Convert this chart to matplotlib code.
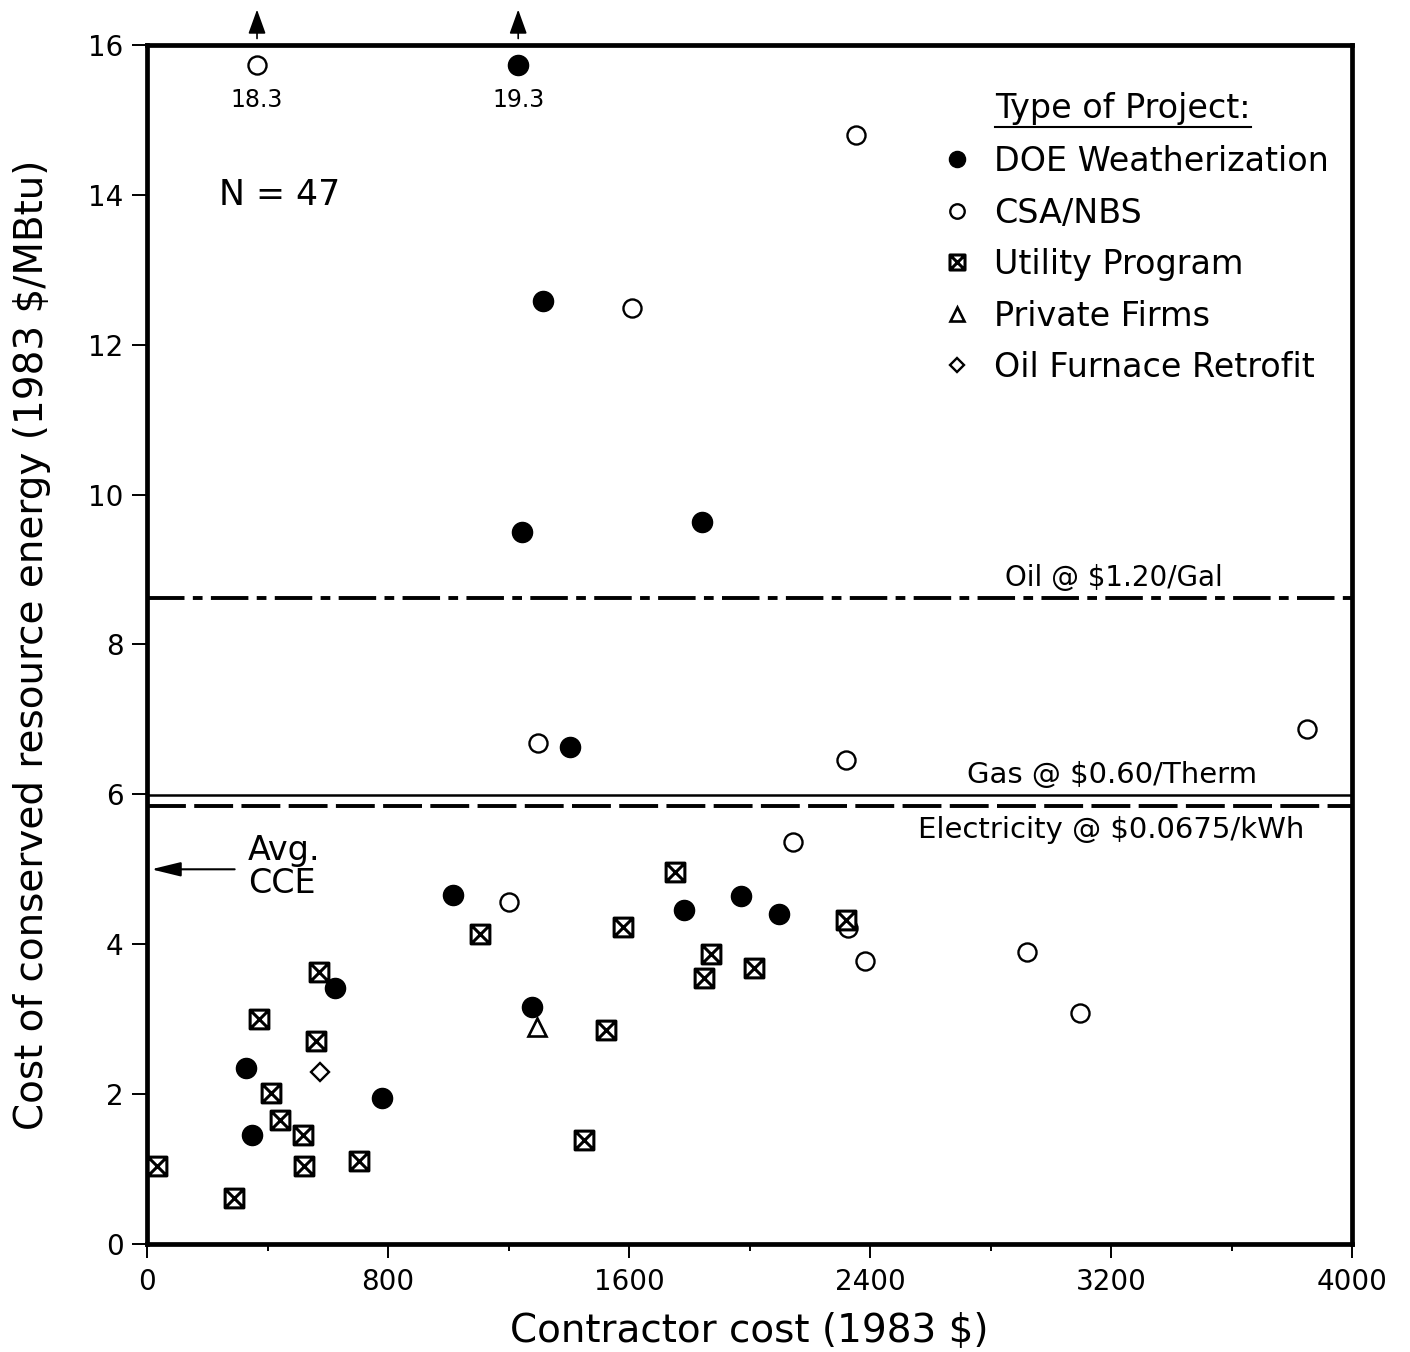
import numpy as np
import matplotlib
matplotlib.use("Agg")
import matplotlib.pyplot as plt
from matplotlib.path import Path
from matplotlib.lines import Line2D

plt.rcParams['font.family'] = ['DejaVu Sans']
plt.rcParams['lines.scale_dashes'] = False

# ---------------- data ----------------
doe_x = [1232, 1315, 1245, 1842, 1404, 1016, 1783, 1972, 2098, 1278, 624, 329, 349, 780]
doe_y = [19.3, 12.58, 9.50, 9.63, 6.63, 4.66, 4.46, 4.64, 4.40, 3.16, 3.42, 2.35, 1.45, 1.95]

csa_x = [365, 2354, 1610, 1298, 2320, 3851, 2144, 1202, 2327, 2383, 2921, 3097]
csa_y = [18.3, 14.80, 12.49, 6.69, 6.46, 6.87, 5.36, 4.56, 4.22, 3.78, 3.90, 3.08]

util_x = [33, 289, 372, 412, 441, 518, 521, 561, 571, 704, 1105, 1451, 1524, 1580,
          1753, 1849, 1872, 2015, 2320]
util_y = [1.04, 0.61, 3.00, 2.01, 1.65, 1.45, 1.04, 2.71, 3.63, 1.11, 4.14, 1.39, 2.86,
          4.23, 4.96, 3.55, 3.87, 3.68, 4.32]

priv_x = [1293]
priv_y = [2.90]

oilf_x = [575]
oilf_y = [2.30]

oil_price_line = 8.62
gas_price_line = 5.99
elec_price_line = 5.85
avg_cce = 5.0
n_obs = 47

x_ticks = [0, 800, 1600, 2400, 3200, 4000]
y_ticks = [0, 2, 4, 6, 8, 10, 12, 14, 16]
x_max = 4000
y_max = 16
display_cap = 15.73  # off-scale points drawn at top edge

# ---------------- figure ----------------
fig = plt.figure(figsize=(14.10, 13.52), dpi=100)
ax = fig.add_axes([0.1043, 0.0799, 0.8546, 0.8868])
ax.set_xlim(0, x_max)
ax.set_ylim(0, y_max)

# boxed-X marker for utility programs
verts = [(-1, -1), (1, -1), (1, 1), (-1, 1), (-1, -1),
         (-1, -1), (1, 1), (-1, 1), (1, -1)]
codes = [Path.MOVETO, Path.LINETO, Path.LINETO, Path.LINETO, Path.CLOSEPOLY,
         Path.MOVETO, Path.LINETO, Path.MOVETO, Path.LINETO]
boxx = Path(verts, codes)

def capped(v):
    return np.minimum(np.asarray(v, float), display_cap)

ax.plot(doe_x, capped(doe_y), 'o', ms=14.5, mfc='black', mec='black',
        label='DOE Weatherization', zorder=5)
ax.plot(csa_x, capped(csa_y), 'o', ms=13, mfc='white', mec='black', mew=1.7,
        label='CSA/NBS', zorder=4)
ax.plot(util_x, util_y, linestyle='none', marker=boxx, ms=13.5, mfc='white',
        mec='black', mew=2.2, label='Utility Program', zorder=5)
ax.plot(priv_x, priv_y, '^', ms=13, mfc='white', mec='black', mew=1.9,
        label='Private Firms', zorder=4)
ax.plot(oilf_x, oilf_y, 'D', ms=9, mfc='white', mec='black', mew=1.7,
        label='Oil Furnace Retrofit', zorder=4)

# off-scale markers: arrows and true values
for xv, yv in zip(doe_x + csa_x, doe_y + csa_y):
    if yv > y_max:
        ax.annotate('', xy=(xv, 16.51), xytext=(xv, 16.05),
                    arrowprops=dict(arrowstyle='-|>,head_length=0.75,head_width=0.27',
                                    color='black', lw=1.2, mutation_scale=20),
                    annotation_clip=False)
        ax.text(xv, 15.27, f"{yv:.1f}", ha='center', va='center', fontsize=17)

# energy price reference lines
ax.axhline(oil_price_line, color='black', lw=2.8, dashes=(27, 6, 7, 6), zorder=3)
ax.axhline(gas_price_line, color='black', lw=1.8, zorder=3)
ax.axhline(elec_price_line, color='black', lw=2.8, dashes=(28, 6), zorder=3)
ax.text(3210, oil_price_line + 0.27, "Oil @ \\$1.20/Gal", ha='center', va='center',
        fontsize=20)
ax.text(3205, gas_price_line + 0.27, "Gas @ \\$0.60/Therm", ha='center', va='center',
        fontsize=21)
ax.text(3200, elec_price_line - 0.32, "Electricity @ \\$0.0675/kWh", ha='center',
        va='center', fontsize=21)

# average CCE arrow
ax.annotate('', xy=(5, avg_cce), xytext=(300, avg_cce),
            arrowprops=dict(arrowstyle='-|>,head_length=0.9,head_width=0.22',
                            color='black', lw=1.5, mutation_scale=20))
ax.text(335, avg_cce + 0.03, "Avg.\nCCE", ha='left', va='center', fontsize=24,
        linespacing=1.0)

ax.text(240, 14.0, f"N = {n_obs}", ha='left', va='center', fontsize=25)

# legend
leg = ax.legend(loc='upper left', bbox_to_anchor=(0.6584, 0.9165), frameon=False,
                fontsize=24, handlelength=1.0, handletextpad=0.6,
                labelspacing=0.555, borderpad=0, borderaxespad=0,
                markerscale=0.8, numpoints=1)
title = ax.text(0.704, 0.947, "Type of Project:", transform=ax.transAxes,
                ha='left', va='center', fontsize=24)

# ticks and spines
ax.set_xticks(x_ticks)
ax.set_xticks(np.arange(400, x_max, 800), minor=True)
ax.set_yticks(y_ticks)
ax.tick_params(axis='x', which='major', direction='out', length=10, width=1.4,
               labelsize=20, pad=7)
ax.tick_params(axis='x', which='minor', direction='out', length=5, width=1.4)
ax.tick_params(axis='y', which='major', direction='out', length=11, width=1.4,
               labelsize=20, pad=6)
for s in ax.spines.values():
    s.set_linewidth(3.4)

ax.set_xlabel("Contractor cost (1983 \\$)", fontsize=28, labelpad=12)
ax.set_ylabel("Cost of conserved resource energy (1983 \\$/MBtu)", fontsize=28,
              labelpad=27)

# underline the legend title
fig.canvas.draw()
bb = title.get_window_extent()
inv = fig.transFigure.inverted()
(x0, y0), (x1, _) = inv.transform([(bb.x0, bb.y0 - 2), (bb.x1, bb.y0 - 2)])
fig.add_artist(Line2D([x0, x1], [y0, y0], color='black', lw=1.5,
                      transform=fig.transFigure))

fig.savefig("out.png", dpi=100)
